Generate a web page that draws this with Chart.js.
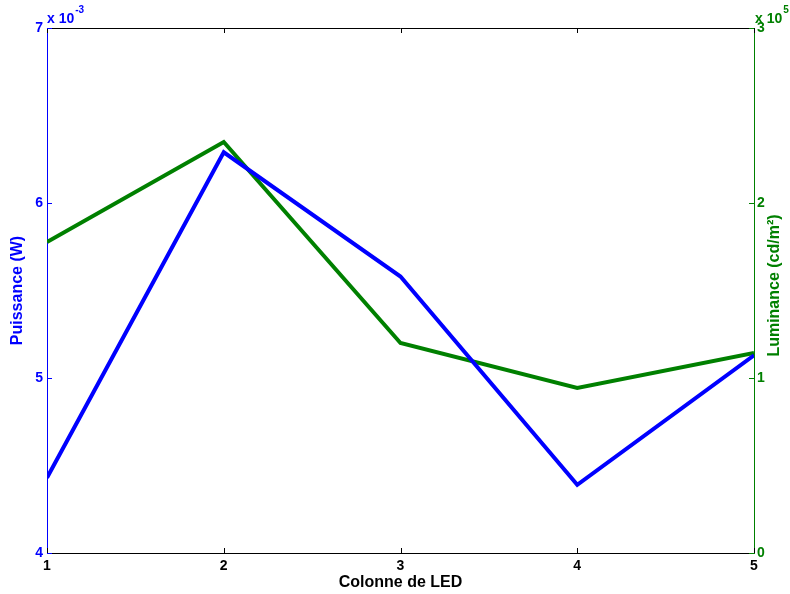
<!DOCTYPE html>
<html>
<head>
<meta charset="utf-8">
<script src="https://cdn.jsdelivr.net/npm/chart.js@4.4.0/dist/chart.umd.min.js"></script>
<style>
  html, body { margin: 0; padding: 0; background: #fff; }
  #wrap { width: 790px; height: 594px; position: relative; }
</style>
</head>
<body>
<div id="wrap"><canvas id="chart"></canvas></div>
<script>
// LED column index
const colonnes = [1, 2, 3, 4, 5];
// power in W (left axis, shown x 10^-3)
const puissance = [0.00443, 0.00629, 0.00558, 0.00439, 0.00513];
// luminance in cd/m² (right axis, shown x 10^5)
const luminance = [177700, 234900, 120000, 94300, 114300];

const leftTicks = [4, 5, 6, 7];
const rightTicks = [0, 1, 2, 3];

const BLUE = "#0000ff";
const GREEN = "#008000";
const FONT = "'Liberation Sans', Arial, Helvetica, sans-serif";

// MATLAB style frame: inward ticks, black top edge, exponent labels, right title
const framePlugin = {
  id: "frame",
  afterDraw(chart) {
    const ctx = chart.ctx;
    const a = chart.chartArea;
    const x = chart.scales.x;
    const y = chart.scales.y;
    const y1 = chart.scales.y1;
    const len = 5;

    ctx.save();
    ctx.lineWidth = 1;

    // top edge
    ctx.strokeStyle = "#000";
    ctx.beginPath();
    ctx.moveTo(a.left, a.top + 0.5);
    ctx.lineTo(a.right, a.top + 0.5);
    ctx.stroke();

    // x ticks, bottom and top, pointing in
    x.ticks.forEach(t => {
      const px = Math.round(x.getPixelForValue(t.value)) + 0.5;
      ctx.beginPath();
      ctx.moveTo(px, a.bottom);
      ctx.lineTo(px, a.bottom - len);
      ctx.moveTo(px, a.top);
      ctx.lineTo(px, a.top + len);
      ctx.stroke();
    });

    ctx.strokeStyle = BLUE;
    y.ticks.forEach(t => {
      const py = Math.round(y.getPixelForValue(t.value)) + 0.5;
      ctx.beginPath();
      ctx.moveTo(a.left, py);
      ctx.lineTo(a.left + len, py);
      ctx.stroke();
    });

    ctx.strokeStyle = GREEN;
    y1.ticks.forEach(t => {
      const py = Math.round(y1.getPixelForValue(t.value)) + 0.5;
      ctx.beginPath();
      ctx.moveTo(a.right, py);
      ctx.lineTo(a.right - len, py);
      ctx.stroke();
    });

    // exponent labels
    ctx.textBaseline = "alphabetic";
    ctx.textAlign = "left";
    ctx.fillStyle = BLUE;
    ctx.font = "bold 14px " + FONT;
    ctx.fillText("x 10", a.left, a.top - 5);
    let w = ctx.measureText("x 10").width;
    ctx.font = "bold 10px " + FONT;
    ctx.fillText("-3", a.left + w + 1, a.top - 15);

    ctx.fillStyle = GREEN;
    ctx.font = "bold 14px " + FONT;
    ctx.fillText("x 10", a.right + 1, a.top - 5);
    w = ctx.measureText("x 10").width;
    ctx.font = "bold 10px " + FONT;
    ctx.fillText("5", a.right + w + 2, a.top - 15);

    // right axis title, reading bottom to top
    ctx.translate(chart.width - 15, (a.top + a.bottom) / 2 - 5);
    ctx.rotate(-Math.PI / 2);
    ctx.textAlign = "center";
    ctx.textBaseline = "middle";
    ctx.font = "bold 16px " + FONT;
    ctx.fillText("Luminance (cd/m²)", 0, 0);
    ctx.restore();
  }
};

new Chart(document.getElementById("chart"), {
  type: "line",
  data: {
    datasets: [
      {
        label: "Puissance",
        data: colonnes.map((c, i) => ({ x: c, y: puissance[i] })),
        borderColor: BLUE,
        borderWidth: 4,
        pointRadius: 0,
        tension: 0,
        fill: false,
        yAxisID: "y"
      },
      {
        label: "Luminance",
        data: colonnes.map((c, i) => ({ x: c, y: luminance[i] })),
        borderColor: GREEN,
        borderWidth: 4,
        pointRadius: 0,
        tension: 0,
        fill: false,
        yAxisID: "y1"
      }
    ]
  },
  options: {
    responsive: true,
    maintainAspectRatio: false,
    animation: false,
    layout: { padding: { top: 28, left: 0, right: 0, bottom: 0 } },
    plugins: {
      legend: { display: false },
      tooltip: { enabled: false }
    },
    scales: {
      x: {
        type: "linear",
        min: 1,
        max: 5,
        afterBuildTicks: scale => {
          scale.ticks = colonnes.map(v => ({ value: v }));
        },
        afterFit: scale => { scale.height = 41; },
        grid: { display: false, drawTicks: false },
        border: { display: true, color: "#000", width: 1 },
        ticks: {
          color: "#000",
          padding: 5,
          font: { family: FONT, size: 14, weight: "bold" }
        },
        title: {
          display: true,
          text: "Colonne de LED",
          color: "#000",
          padding: { top: 0, bottom: 2 },
          font: { family: FONT, size: 16, weight: "bold" }
        }
      },
      y: {
        type: "linear",
        position: "left",
        min: 0.004,
        max: 0.007,
        afterBuildTicks: scale => {
          scale.ticks = leftTicks.map(v => ({ value: v / 1000 }));
        },
        afterFit: scale => { scale.width = 47; },
        grid: { display: false, drawTicks: false },
        border: { display: true, color: BLUE, width: 1 },
        ticks: {
          color: BLUE,
          padding: 4,
          font: { family: FONT, size: 14, weight: "bold" },
          callback: v => String(Math.round(v * 1000))
        },
        title: {
          display: true,
          text: "Puissance (W)",
          color: BLUE,
          padding: { top: 8, bottom: 0 },
          font: { family: FONT, size: 16, weight: "bold" }
        }
      },
      y1: {
        type: "linear",
        position: "right",
        min: 0,
        max: 300000,
        afterBuildTicks: scale => {
          scale.ticks = rightTicks.map(v => ({ value: v * 100000 }));
        },
        afterFit: scale => { scale.width = 36; },
        grid: { display: false, drawTicks: false },
        border: { display: true, color: GREEN, width: 1 },
        ticks: {
          color: GREEN,
          padding: 3,
          font: { family: FONT, size: 14, weight: "bold" },
          callback: v => String(Math.round(v / 100000))
        },
        title: { display: false }
      }
    }
  },
  plugins: [framePlugin]
});
</script>
</body>
</html>
